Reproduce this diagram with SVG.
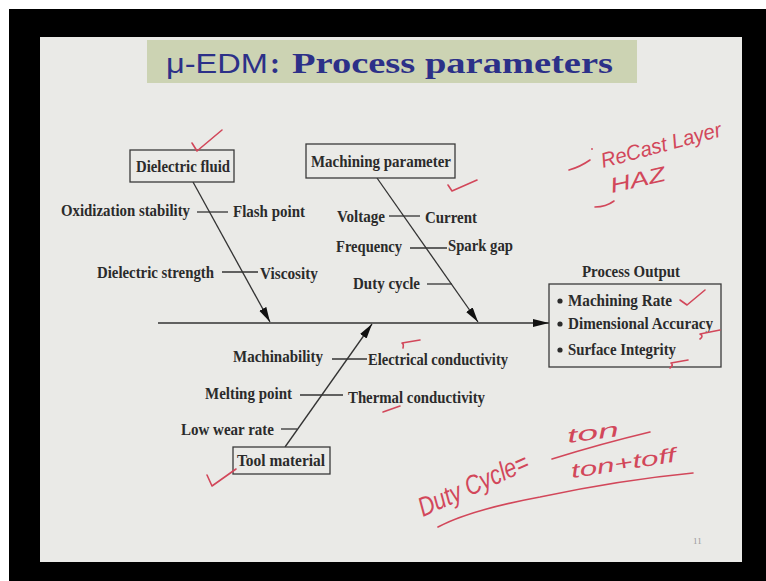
<svg xmlns="http://www.w3.org/2000/svg" width="766" height="581" viewBox="0 0 766 581">
<style>
.t{font-family:"Liberation Serif",serif;font-weight:bold;font-size:17px;fill:#2b2b2b}
.box{fill:none;stroke:#3a3a3a;stroke-width:1.3}
.ln{stroke:#333;stroke-width:1.3;fill:none}
.red{stroke:#d2475a;stroke-width:1.6;fill:none;stroke-linecap:round;stroke-linejoin:round}
.hw{font-family:"Liberation Sans",sans-serif;font-style:italic;fill:#d2475a}
.ttl{fill:#2c3088}
</style>
<defs>
<marker id="ah" markerUnits="userSpaceOnUse" markerWidth="16" markerHeight="10" refX="15" refY="4" orient="auto">
<path d="M0,0 L15,4 L0,8 Z" fill="#111"/>
</marker>
<marker id="ahs" markerUnits="userSpaceOnUse" markerWidth="18" markerHeight="10" refX="16" refY="4" orient="auto">
<path d="M0,0 L16,4 L0,8 Z" fill="#111"/>
</marker>
</defs>
<rect width="766" height="581" fill="#ffffff"/>
<rect x="9" y="9" width="757" height="572" fill="#000"/>
<rect x="40" y="37" width="702" height="525" fill="#eaeae7"/>

<g id="title">
<rect x="147" y="40" width="490" height="43" fill="#ccd3b3"/>
<text class="ttl" x="166" y="73" font-family="Liberation Sans,sans-serif" font-size="28" textLength="102" lengthAdjust="spacingAndGlyphs">μ-EDM</text>
<text class="ttl" x="270" y="73" font-family="Liberation Serif,serif" font-size="30" font-weight="bold">:</text>
<text class="ttl" x="292" y="73" font-family="Liberation Serif,serif" font-size="30" font-weight="bold" textLength="321" lengthAdjust="spacingAndGlyphs">Process parameters</text>
</g>

<g id="connectors">
<line class="ln" x1="158" y1="323" x2="549" y2="323" marker-end="url(#ahs)"/>
<line class="ln" x1="193" y1="182" x2="270" y2="322" marker-end="url(#ah)"/>
<line class="ln" x1="377" y1="178" x2="478" y2="322" marker-end="url(#ah)"/>
<line class="ln" x1="285" y1="447" x2="372" y2="324" marker-end="url(#ah)"/>
<line class="ln" x1="197" y1="212" x2="228" y2="212"/>
<line class="ln" x1="222" y1="272" x2="258" y2="272"/>
<line class="ln" x1="389" y1="216" x2="420" y2="216"/>
<line class="ln" x1="410" y1="248" x2="447" y2="248"/>
<line class="ln" x1="427" y1="284" x2="452" y2="284"/>
<line class="ln" x1="332" y1="359" x2="367" y2="359"/>
<line class="ln" x1="300" y1="395" x2="343" y2="395"/>
<line class="ln" x1="281" y1="429" x2="297" y2="429"/>
</g>

<g id="dielectric-fluid">
<rect class="box" x="130" y="150" width="104" height="32" style="fill:#eaeae7"/>
<text class="t" x="136" y="172" textLength="94" lengthAdjust="spacingAndGlyphs">Dielectric fluid</text>
</g>
<g id="machining-parameter">
<rect class="box" x="306" y="144" width="149" height="34" style="fill:#eaeae7"/>
<text class="t" x="311" y="167" textLength="140" lengthAdjust="spacingAndGlyphs">Machining parameter</text>
</g>
<g id="tool-material">
<rect class="box" x="233" y="447" width="97" height="27" style="fill:#eaeae7"/>
<text class="t" x="237" y="466" textLength="88" lengthAdjust="spacingAndGlyphs">Tool material</text>
</g>

<g id="dielectric-causes">
<text class="t" x="61" y="216" textLength="129" lengthAdjust="spacingAndGlyphs">Oxidization stability</text>
<text class="t" x="233" y="217" textLength="72" lengthAdjust="spacingAndGlyphs">Flash point</text>
<text class="t" x="97" y="278" textLength="117" lengthAdjust="spacingAndGlyphs">Dielectric strength</text>
<text class="t" x="260" y="279" textLength="58" lengthAdjust="spacingAndGlyphs">Viscosity</text>
</g>
<g id="machining-causes">
<text class="t" x="337" y="222" textLength="48" lengthAdjust="spacingAndGlyphs">Voltage</text>
<text class="t" x="425" y="223" textLength="52" lengthAdjust="spacingAndGlyphs">Current</text>
<text class="t" x="336" y="252" textLength="66" lengthAdjust="spacingAndGlyphs">Frequency</text>
<text class="t" x="448" y="251" textLength="65" lengthAdjust="spacingAndGlyphs">Spark gap</text>
<text class="t" x="353" y="289" textLength="67" lengthAdjust="spacingAndGlyphs">Duty cycle</text>
</g>
<g id="tool-causes">
<text class="t" x="233" y="362" textLength="90" lengthAdjust="spacingAndGlyphs">Machinability</text>
<text class="t" x="368" y="365" textLength="140" lengthAdjust="spacingAndGlyphs">Electrical conductivity</text>
<text class="t" x="205" y="399" textLength="87" lengthAdjust="spacingAndGlyphs">Melting point</text>
<text class="t" x="348" y="403" textLength="137" lengthAdjust="spacingAndGlyphs">Thermal conductivity</text>
<text class="t" x="181" y="435" textLength="93" lengthAdjust="spacingAndGlyphs">Low wear rate</text>
</g>

<g id="process-output">
<text class="t" x="582" y="277" textLength="98" lengthAdjust="spacingAndGlyphs">Process Output</text>
<rect class="box" x="549" y="284" width="172" height="83"/>
<circle cx="560" cy="301" r="2.6" fill="#2b2b2b"/>
<circle cx="560" cy="324" r="2.6" fill="#2b2b2b"/>
<circle cx="560" cy="350" r="2.6" fill="#2b2b2b"/>
<text class="t" x="568" y="306" textLength="104" lengthAdjust="spacingAndGlyphs">Machining Rate</text>
<text class="t" x="568" y="329" textLength="145" lengthAdjust="spacingAndGlyphs">Dimensional Accuracy</text>
<text class="t" x="568" y="355" textLength="108" lengthAdjust="spacingAndGlyphs">Surface Integrity</text>
</g>

<g id="annotations">
<path class="red" d="M192,143 L197,151 L222,130"/>
<path class="red" d="M448,185 L452,191 L477,180"/>
<path class="red" d="M680,300 L687,305 L705,290"/>
<path class="red" d="M700,339 Q704,336 700,334 L720,330"/>
<path class="red" d="M670,368 Q674,365 671,363 L688,360"/>
<path class="red" d="M403,348 Q404,344 402,343 L420,340"/>
<path class="red" d="M383,412 L400,406"/>
<path class="red" d="M207,475 L212,486 L236,469"/>
<path class="red" d="M569,170 Q580,167 590,160"/>
<circle cx="592" cy="149" r="0.9" fill="#d2475a"/>
<path class="red" d="M595,207 Q606,207 614,201"/>
<text class="hw" font-size="21" transform="translate(603,168) rotate(-15)" textLength="124" lengthAdjust="spacingAndGlyphs">ReCast Layer</text>
<text class="hw" font-size="21" transform="translate(612,193) rotate(-13)" textLength="56" lengthAdjust="spacingAndGlyphs">HAZ</text>
<text class="hw" font-size="27" transform="translate(423,517) rotate(-24)" textLength="118" lengthAdjust="spacingAndGlyphs">Duty Cycle=</text>
<text class="hw" font-size="20" transform="translate(568,443) rotate(-8)" textLength="52" lengthAdjust="spacingAndGlyphs">ton</text>
<path class="red" d="M552,459 Q600,444 650,432"/>
<text class="hw" font-size="20" transform="translate(572,478) rotate(-9)" textLength="106" lengthAdjust="spacingAndGlyphs">ton+toff</text>
<path class="red" d="M438,527 Q470,510 540,497 Q620,480 693,473"/>
</g>
<text x="693" y="544" font-family="Liberation Serif,serif" font-size="9" fill="#999">11</text>
</svg>
